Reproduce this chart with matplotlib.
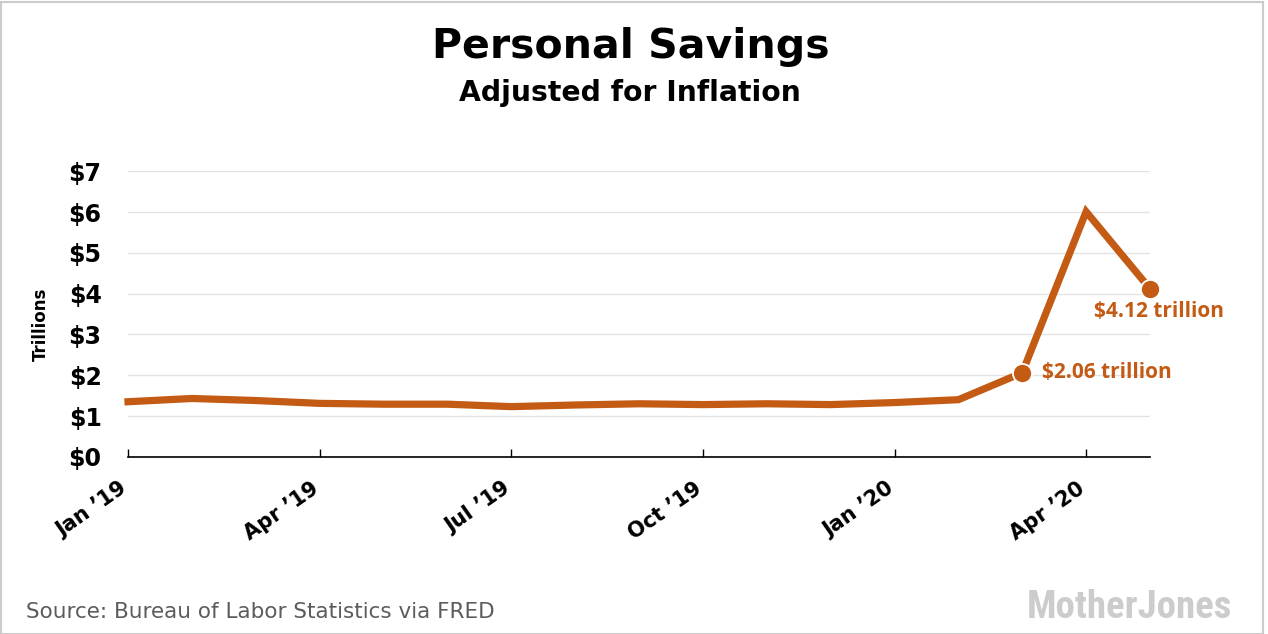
import matplotlib
matplotlib.use("Agg")
import matplotlib.pyplot as plt
from matplotlib.patches import Rectangle

months = ["Jan 2019", "Feb 2019", "Mar 2019", "Apr 2019", "May 2019", "Jun 2019",
          "Jul 2019", "Aug 2019", "Sep 2019", "Oct 2019", "Nov 2019", "Dec 2019",
          "Jan 2020", "Feb 2020", "Mar 2020", "Apr 2020", "May 2020"]
savings = [1.35, 1.43, 1.38, 1.31, 1.29, 1.29, 1.23, 1.27, 1.30, 1.28, 1.30, 1.28,
           1.33, 1.40, 2.06, 6.01, 4.12]
tick_positions = [0, 3, 6, 9, 12, 15]
tick_labels = ["Jan \u201919", "Apr \u201919", "Jul \u201919", "Oct \u201919", "Jan \u201920", "Apr \u201920"]
y_ticks = [0, 1, 2, 3, 4, 5, 6, 7]
y_labels = ["$0", "$1", "$2", "$3", "$4", "$5", "$6", "$7"]
highlight_idx = [14, 16]
highlight_labels = ["$2.06 trillion", "$4.12 trillion"]

ORANGE = "#C45B14"
FONT = "DejaVu Sans"

W, H = 1268, 634
fig = plt.figure(figsize=(W / 100, H / 100), dpi=100)
fig.patch.set_facecolor("white")

ax = fig.add_axes([128 / W, (H - 456.8) / H, (1150 - 128) / W, (456.8 - 171.3) / H])
x = list(range(len(months)))
ax.plot(x, savings, color=ORANGE, lw=5.2, solid_joinstyle="miter", clip_on=False, zorder=3)
hx = [x[i] for i in highlight_idx]
hy = [savings[i] for i in highlight_idx]
ax.scatter(hx, hy, s=190, color=ORANGE, edgecolor="white", linewidth=1.3, zorder=4, clip_on=False)

ax.set_xlim(0, len(months) - 1)
ax.set_ylim(0, 7)
ax.set_yticks(y_ticks)
ax.set_yticklabels(y_labels, fontfamily=FONT, fontweight="bold", fontsize=17)
ax.set_xticks(tick_positions)
ax.set_xticklabels([])
xform = ax.get_xaxis_transform()
for pos, lab in zip(tick_positions, tick_labels):
    ax.annotate(lab, (pos, 0), xycoords=xform, xytext=(-6.5, -15.4), textcoords="offset points",
                rotation=35, ha="right", va="top", rotation_mode="anchor",
                fontfamily=FONT, fontweight="bold", fontsize=15, annotation_clip=False)
ax.tick_params(axis="y", length=0, pad=19)
ax.tick_params(axis="x", direction="in", length=6, width=1, color="black")
ax.grid(axis="y", color="#e3e3e3", lw=1)
ax.set_axisbelow(True)
for s in ["top", "right", "left"]:
    ax.spines[s].set_visible(False)
ax.spines["bottom"].set_color("black")
ax.spines["bottom"].set_linewidth(1.2)
ax.spines["bottom"].set_zorder(5)

ax.set_ylabel("Trillions", fontfamily=FONT, fontweight="bold", fontsize=12)
ax.yaxis.set_label_coords(-78 / 1022, 0.463)

ann_font = ["Open Sans", "DejaVu Sans"]
ax.annotate(highlight_labels[0], (hx[0], hy[0]), xytext=(14.5, 0), textcoords="offset points",
            ha="left", va="center", color=ORANGE, family=ann_font, fontweight="bold", fontsize=15)
ax.annotate(highlight_labels[1], (hx[1], hy[1]), xytext=(6.5, -16.5), textcoords="offset points",
            ha="center", va="center", color=ORANGE, family=ann_font, fontweight="bold", fontsize=15)

fig.text(631 / W, 1 - 47 / H, "Personal Savings", ha="center", va="center",
         fontfamily=FONT, fontweight="bold", fontsize=29.5)
fig.text(630 / W, 1 - 93 / H, "Adjusted for Inflation", ha="center", va="center",
         fontfamily=FONT, fontweight="bold", fontsize=20.3)
fig.text(26 / W, 1 - 617.5 / H, "Source: Bureau of Labor Statistics via FRED", ha="left", va="baseline",
         fontfamily=FONT, fontsize=15.5, color="#5c5c5c")
fig.text(1232 / W, 1 - 618 / H, "MotherJones", ha="right", va="baseline",
         family=["Liberation Sans Narrow", "Roboto Condensed", "Open Sans Condensed", "DejaVu Sans"],
         fontstretch="condensed", fontweight="bold", fontsize=28, color="#cccccc")

fig.patches.append(Rectangle((0.5 / W, 0.5 / H), (W - 6) / W, (H - 2) / H, transform=fig.transFigure,
                             fill=False, edgecolor="#cccccc", lw=1.5))

fig.savefig("out.png", dpi=100, facecolor="white")
